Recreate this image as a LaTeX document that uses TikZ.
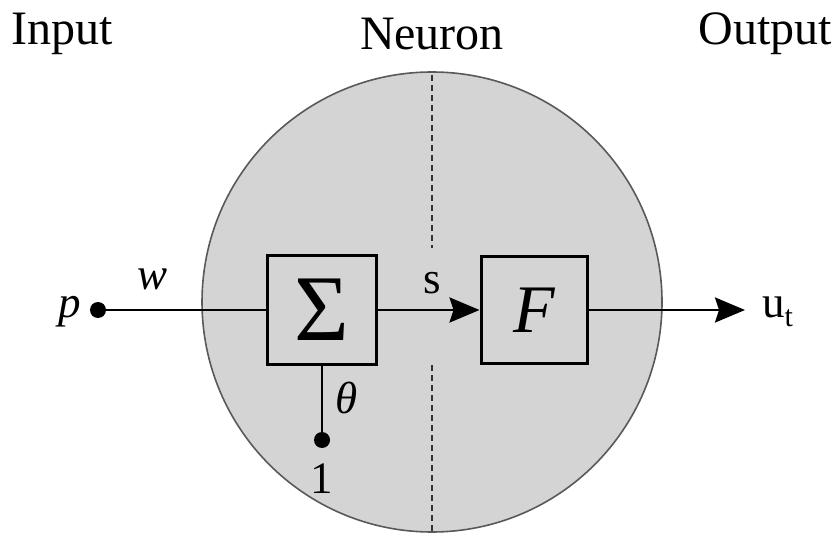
\documentclass[tikz,border=0pt]{standalone}
\usepackage{fontspec}
\setmainfont{Liberation Serif}
\usetikzlibrary{arrows.meta}
\tikzset{
  blk/.style={draw=black, line width=3pt, minimum size=106pt, inner sep=0pt, fill=none},
  con/.style={line width=2.8pt, draw=black},
  arr/.style={con, -{Stealth[length=30pt,width=25pt,inset=4pt]}},
  dotnode/.style={circle, fill=black, inner sep=0pt, minimum size=16pt},
  lbl/.style={font=\fontsize{45}{50}\selectfont, inner sep=0pt},
  ttl/.style={font=\fontsize{48}{52}\selectfont, inner sep=0pt},
  sep/.style={draw=black!80, line width=1.4pt, dash pattern=on 6pt off 4pt}
}
\begin{document}
\begin{tikzpicture}[x=1pt,y=1pt]
\useasboundingbox (0,0) rectangle (834,541);
% neuron body
\node[circle, draw=black!65, line width=1.6pt, fill=black!17, minimum size=460pt, inner sep=0pt] (body) at (432,239) {};
% separator
\coordinate (d1) at (432,466);
\coordinate (d2) at (432,293);
\coordinate (d3) at (432,176);
\coordinate (d4) at (432,9);
\draw[sep] (d1) -- (d2);
\draw[sep] (d3) -- (d4);
% titles
\node[ttl] (tin) at (62,507) {Input};
\node[ttl] (tneu) at (432,507) {Neuron};
\node[ttl] (tout) at (765,507) {Output};
% blocks
\node[blk, minimum size=109pt] (sum) at (322,231) {\fontsize{94}{98}\selectfont Σ};
\node[blk] (F) at (534,231) {\fontsize{68}{72}\selectfont\itshape F};
% input
\node[dotnode] (pdot) at (98,231) {};
\node[lbl, anchor=east] (p) at (81,229) {\itshape p};
\node[lbl] (w) at (153,262) {\itshape w};
\draw[con] (pdot) -- (sum);
% bias
\node[dotnode] (bdot) at (322,101) {};
\node[lbl] (one) at (322,62) {1};
\node[lbl] (theta) at (347,143) {\itshape θ};
\draw[con] (sum) -- (bdot);
% s
\draw[arr] (sum) -- (F);
\node[lbl] (s) at (432,258) {s};
% output
\coordinate (oend) at (745,231);
\draw[arr] (F) -- (oend);
\node[lbl, anchor=west] (ut) at (762,229) {u\raisebox{-9pt}{\fontsize{30}{34}\selectfont t}};
\end{tikzpicture}
\end{document}
